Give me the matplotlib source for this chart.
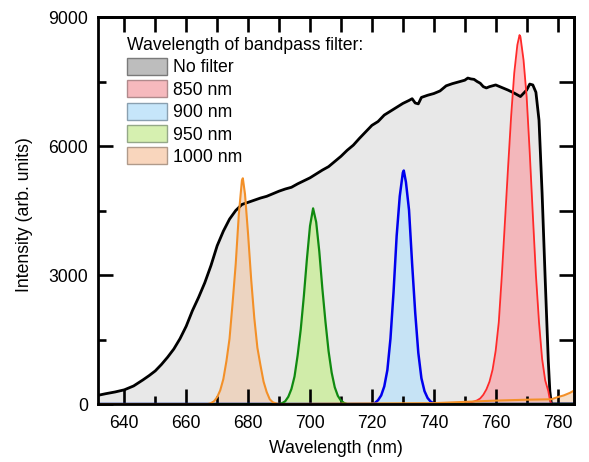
import matplotlib.pyplot as plt
from matplotlib.patches import Patch
from matplotlib.ticker import MultipleLocator

plt.rcParams['font.family'] = ['Liberation Sans', 'DejaVu Sans']
plt.rcParams['font.size'] = 12.7

# spectrum without filter
wl_none = [631, 634, 637, 640, 643, 646, 648, 650, 652, 654, 656, 658, 660, 662, 664,
           666, 668, 670, 672, 674, 676, 678, 680, 682, 684, 686, 688, 690, 692, 694,
           696, 698, 700, 702, 704, 706, 708, 710, 712, 714, 716, 718, 720, 722, 724,
           726, 728, 730, 732, 733, 734, 735, 736, 738, 740, 742, 744, 746, 748, 750,
           751, 752, 753, 754, 755, 756, 757, 758, 760, 762, 764, 766, 768, 770, 771,
           772, 773, 774, 775, 776, 777, 777.5, 778, 785]
int_none = [195, 240, 280, 330, 420, 560, 660, 770, 920, 1090, 1280, 1520, 1810, 2170, 2480,
            2820, 3220, 3680, 4020, 4300, 4500, 4640, 4690, 4740, 4790, 4830, 4890, 4950, 5000, 5040,
            5120, 5190, 5260, 5350, 5440, 5520, 5640, 5760, 5900, 6020, 6180, 6330, 6480, 6570, 6720,
            6810, 6900, 6990, 7060, 7100, 7000, 6980, 7130, 7180, 7220, 7280, 7400, 7450, 7490, 7530,
            7580, 7560, 7550, 7500, 7460, 7380, 7350, 7380, 7420, 7360, 7300, 7230, 7150, 7300, 7440,
            7420, 7250, 6600, 4900, 2900, 1000, 300, 0, 0]

# 850 nm filter
wl_850 = [631, 750, 751, 752, 753, 754, 755, 756, 757, 758, 759, 760, 761, 762, 763, 764,
          765, 766, 767, 767.7, 768, 769, 770, 771, 772, 773, 774, 775, 776, 777, 777.5, 778, 785]
int_850 = [0, 0, 25, 40, 60, 85, 130, 215, 340, 520, 800, 1240, 1900, 3000, 4250, 5500,
           6700, 7700, 8350, 8580, 8540, 8000, 7150, 5850, 4400, 3000, 1900, 1050, 550, 300, 100, 0, 0]

# 900 nm filter
wl_900 = [631, 720, 721, 722, 723, 724, 725, 726, 727, 728, 729, 730, 730.3, 731, 732, 733,
          734, 735, 736, 737, 738, 739, 740, 741, 785]
int_900 = [0, 0, 25, 90, 200, 410, 790, 1520, 2610, 3910, 4830, 5380, 5430, 5160, 4510, 3260,
           2120, 1190, 600, 300, 140, 55, 15, 0, 0]

# 950 nm filter
wl_950 = [631, 690, 691, 692, 693, 694, 695, 696, 697, 698, 699, 700, 701, 702, 703, 704,
          705, 706, 707, 708, 709, 710, 711, 712, 785]
int_950 = [0, 0, 20, 65, 170, 350, 640, 1130, 1730, 2500, 3370, 4140, 4550, 4230, 3550, 2680,
           1910, 1230, 730, 390, 190, 80, 25, 0, 0]

# 1000 nm filter
wl_1000 = [631, 667, 668, 669, 670, 671, 672, 673, 674, 675, 676, 677, 678, 678.3, 679, 680,
           681, 682, 683, 684, 685, 686, 687, 688, 689, 690, 740, 750, 760, 770, 778, 780,
           782, 784, 785]
int_1000 = [0, 0, 20, 65, 160, 320, 580, 1000, 1520, 2360, 3260, 4410, 5200, 5250, 4880, 3940,
            2890, 2000, 1310, 900, 520, 280, 110, 40, 15, 0, 20, 50, 80, 100, 110, 160,
            200, 260, 300]

labels = ['No filter', '850 nm', '900 nm', '950 nm', '1000 nm']

fig = plt.figure(figsize=(5.89, 4.62), dpi=100)
ax = fig.add_axes([0.1664, 0.1255, 0.8081, 0.8377])

ax.fill_between(wl_none, int_none, color='#e8e8e8', lw=0)
ax.plot(wl_none, int_none, color='black', lw=2.0)

filters = [
    (wl_850, int_850, '#ff2a2a', '#ff8890', 0.5, 1.3),
    (wl_900, int_900, '#0000ee', '#b0e0ff', 0.6, 1.8),
    (wl_950, int_950, '#108a10', '#c0f080', 0.6, 1.6),
    (wl_1000, int_1000, '#f39028', '#f0c8a8', 0.6, 1.5),
]
for wl, inten, line_c, fill_c, a, lw in filters:
    ax.fill_between(wl, inten, color=fill_c, alpha=a, lw=0)
    ax.plot(wl, inten, color=line_c, lw=lw)

ax.set_xlim(631.5, 785.3)
ax.set_ylim(0, 9000)
ax.set_xticks(range(640, 781, 20))
ax.set_yticks([0, 3000, 6000, 9000])
ax.xaxis.set_minor_locator(MultipleLocator(10))
ax.yaxis.set_minor_locator(MultipleLocator(1500))
ax.tick_params(which='major', direction='in', length=10.8, width=1.9, top=False, right=False)
ax.tick_params(which='minor', direction='in', length=5.6, width=1.9, top=False, right=False)
ax.tick_params(axis='x', which='major', pad=8)
ax.tick_params(axis='y', which='major', pad=7)
for s in ax.spines.values():
    s.set_linewidth(2.0)

# top and right ticks are all full length
top = ax.secondary_xaxis('top')
top.set_xticks(range(640, 781, 10))
top.tick_params(direction='in', length=10.8, width=1.9, labeltop=False)
top.spines['top'].set_linewidth(2.0)
right = ax.secondary_yaxis('right')
right.set_yticks(range(0, 9001, 1500))
right.tick_params(direction='in', length=10.8, width=1.9, labelright=False)
right.spines['right'].set_linewidth(2.0)

ax.set_xlabel('Wavelength (nm)')
ax.set_ylabel('Intensity (arb. units)')
ax.xaxis.set_label_coords(0.5, -0.092)
ax.yaxis.set_label_coords(-0.137, 0.49)

handles = [
    Patch(facecolor='#bdbdbd', edgecolor='#7a7a7a'),
    Patch(facecolor='#f6b9bd', edgecolor='#b08a8c'),
    Patch(facecolor='#c6e6fa', edgecolor='#8aa0b0'),
    Patch(facecolor='#d6f0b0', edgecolor='#94a888'),
    Patch(facecolor='#f9d6bd', edgecolor='#b09a8a'),
]
ax.legend(handles, labels, title='Wavelength of bandpass filter:', title_fontsize=12.7,
          loc='upper left', bbox_to_anchor=(0.06, 0.948), borderaxespad=0, borderpad=0,
          frameon=False, alignment='left', handlelength=2.3, handleheight=1.1,
          labelspacing=0.22, handletextpad=0.36)

fig.savefig('out.png', dpi=100)
